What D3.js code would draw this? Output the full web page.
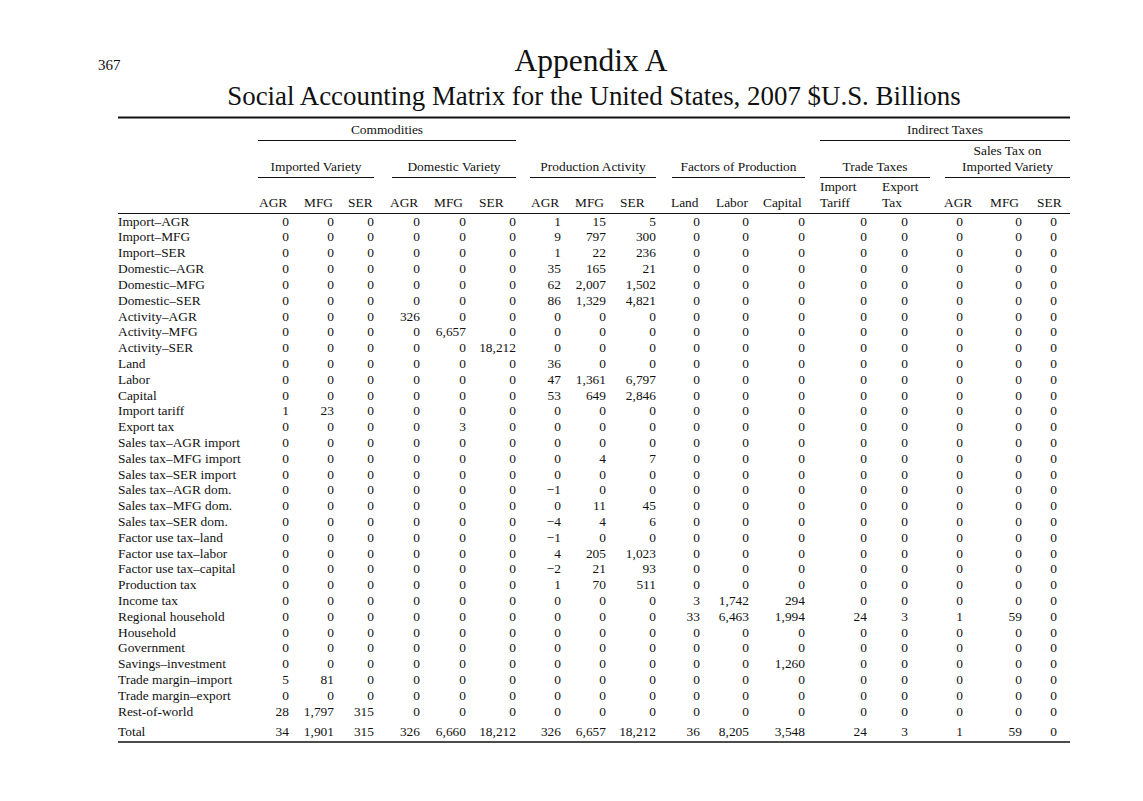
<!DOCTYPE html>
<html>
<head>
<meta charset="utf-8">
<script src="https://cdn.jsdelivr.net/npm/d3@7"></script>
<style>
  html, body { margin: 0; padding: 0; background: #fff; }
  svg { display: block; }
  text { font-family: "Liberation Serif", "Times New Roman", serif; fill: #111; }
</style>
</head>
<body>
<svg id="chart" width="1143" height="801"></svg>
<script>
// ---------------- DATA ----------------
const pageNumber = "367";
const title = "Appendix A";
const subtitle = "Social Accounting Matrix for the United States, 2007 $U.S. Billions";

const columnKeys = ["impAGR","impMFG","impSER","domAGR","domMFG","domSER",
  "actAGR","actMFG","actSER","land","labor","capital",
  "impTariff","expTax","stAGR","stMFG","stSER"];
const columnLabels = [["AGR"],["MFG"],["SER"],["AGR"],["MFG"],["SER"],
  ["AGR"],["MFG"],["SER"],["Land"],["Labor"],["Capital"],
  ["Import","Tariff"],["Export","Tax"],["AGR"],["MFG"],["SER"]];

const groupTop = [
  {label: ["Commodities"], from: "impAGR", to: "domSER"},
  {label: ["Indirect Taxes"], from: "impTariff", to: "stSER"}
];
const groupMid = [
  {label: ["Imported Variety"], from: "impAGR", to: "impSER"},
  {label: ["Domestic Variety"], from: "domAGR", to: "domSER"},
  {label: ["Production Activity"], from: "actAGR", to: "actSER"},
  {label: ["Factors of Production"], from: "land", to: "capital"},
  {label: ["Trade Taxes"], from: "impTariff", to: "expTax"},
  {label: ["Sales Tax on","Imported Variety"], from: "stAGR", to: "stSER"}
];

const rowLabels = ["Import–AGR","Import–MFG","Import–SER","Domestic–AGR","Domestic–MFG",
  "Domestic–SER","Activity–AGR","Activity–MFG","Activity–SER","Land","Labor","Capital",
  "Import tariff","Export tax","Sales tax–AGR import","Sales tax–MFG import",
  "Sales tax–SER import","Sales tax–AGR dom.","Sales tax–MFG dom.","Sales tax–SER dom.",
  "Factor use tax–land","Factor use tax–labor","Factor use tax–capital","Production tax",
  "Income tax","Regional household","Household","Government","Savings–investment",
  "Trade margin–import","Trade margin–export","Rest-of-world"];

const values = [
  [0,0,0,0,0,0,1,15,5,0,0,0,0,0,0,0,0],
  [0,0,0,0,0,0,9,797,300,0,0,0,0,0,0,0,0],
  [0,0,0,0,0,0,1,22,236,0,0,0,0,0,0,0,0],
  [0,0,0,0,0,0,35,165,21,0,0,0,0,0,0,0,0],
  [0,0,0,0,0,0,62,2007,1502,0,0,0,0,0,0,0,0],
  [0,0,0,0,0,0,86,1329,4821,0,0,0,0,0,0,0,0],
  [0,0,0,326,0,0,0,0,0,0,0,0,0,0,0,0,0],
  [0,0,0,0,6657,0,0,0,0,0,0,0,0,0,0,0,0],
  [0,0,0,0,0,18212,0,0,0,0,0,0,0,0,0,0,0],
  [0,0,0,0,0,0,36,0,0,0,0,0,0,0,0,0,0],
  [0,0,0,0,0,0,47,1361,6797,0,0,0,0,0,0,0,0],
  [0,0,0,0,0,0,53,649,2846,0,0,0,0,0,0,0,0],
  [1,23,0,0,0,0,0,0,0,0,0,0,0,0,0,0,0],
  [0,0,0,0,3,0,0,0,0,0,0,0,0,0,0,0,0],
  [0,0,0,0,0,0,0,0,0,0,0,0,0,0,0,0,0],
  [0,0,0,0,0,0,0,4,7,0,0,0,0,0,0,0,0],
  [0,0,0,0,0,0,0,0,0,0,0,0,0,0,0,0,0],
  [0,0,0,0,0,0,-1,0,0,0,0,0,0,0,0,0,0],
  [0,0,0,0,0,0,0,11,45,0,0,0,0,0,0,0,0],
  [0,0,0,0,0,0,-4,4,6,0,0,0,0,0,0,0,0],
  [0,0,0,0,0,0,-1,0,0,0,0,0,0,0,0,0,0],
  [0,0,0,0,0,0,4,205,1023,0,0,0,0,0,0,0,0],
  [0,0,0,0,0,0,-2,21,93,0,0,0,0,0,0,0,0],
  [0,0,0,0,0,0,1,70,511,0,0,0,0,0,0,0,0],
  [0,0,0,0,0,0,0,0,0,3,1742,294,0,0,0,0,0],
  [0,0,0,0,0,0,0,0,0,33,6463,1994,24,3,1,59,0],
  [0,0,0,0,0,0,0,0,0,0,0,0,0,0,0,0,0],
  [0,0,0,0,0,0,0,0,0,0,0,0,0,0,0,0,0],
  [0,0,0,0,0,0,0,0,0,0,0,1260,0,0,0,0,0],
  [5,81,0,0,0,0,0,0,0,0,0,0,0,0,0,0,0],
  [0,0,0,0,0,0,0,0,0,0,0,0,0,0,0,0,0],
  [28,1797,315,0,0,0,0,0,0,0,0,0,0,0,0,0,0]
];
const totalLabel = "Total";
const totals = [34,1901,315,326,6660,18212,326,6657,18212,36,8205,3548,24,3,1,59,0];

// ---------------- LAYOUT ----------------
const svg = d3.select("#chart");
svg.append("rect").attr("width",1143).attr("height",801).attr("fill","#fff");

const tableLeft = 118, tableRight = 1070;
const fs = 13.4;

// number column right edges
const xNum = d3.scaleOrdinal().domain(columnKeys)
  .range([289,334,374,420,466,516,561,606,656,700,749,805,867,908,963,1022,1057]);
// header text positions (left edge)
const xHead = d3.scaleOrdinal().domain(columnKeys)
  .range([259,304,348,390,434,479,531,575,620,671,716,763,820,882,944,990,1037]);
// span extents for group rules
const spanL = d3.scaleOrdinal().domain(columnKeys)
  .range([258,303,347,392,433,478,530,574,619,672,715,762,820,881,945,990,1036]);
const spanR = d3.scaleOrdinal().domain(columnKeys)
  .range([289,334,374,420,466,516,561,606,656,700,749,805,867,930,975,1023,1070]);

const y = d3.scalePoint().domain(rowLabels).range([221, 711]);
const yTotal = 731;

const fmt = d3.format(",");

// Titles
svg.append("text").attr("x",98).attr("y",70).attr("font-size",15).text(pageNumber);
svg.append("text").attr("x",591).attr("y",71).attr("text-anchor","middle")
  .attr("font-size",31.5).text(title);
svg.append("text").attr("x",594).attr("y",105).attr("text-anchor","middle")
  .attr("font-size",26.9).text(subtitle);

// Rules
function hline(x1,x2,yy,w){ svg.append("line").attr("x1",x1).attr("x2",x2)
  .attr("y1",yy).attr("y2",yy).attr("stroke","#111").attr("stroke-width",w); }
hline(tableLeft, tableRight, 117.5, 2);
hline(tableLeft, tableRight, 213.5, 1.2);
hline(tableLeft, tableRight, 742, 1.5);

// Group headers (top)
groupTop.forEach(g => {
  const x1 = spanL(g.from), x2 = spanR(g.to);
  svg.append("text").attr("x",(x1+x2)/2).attr("y",134).attr("text-anchor","middle")
    .attr("font-size",fs).text(g.label[0]);
  hline(x1, x2, 140.5, 1);
});
// Group headers (middle)
groupMid.forEach(g => {
  const x1 = spanL(g.from), x2 = spanR(g.to);
  g.label.forEach((l,i) => {
    svg.append("text").attr("x",(x1+x2)/2).attr("y",171 - (g.label.length-1-i)*16)
      .attr("text-anchor","middle").attr("font-size",fs).text(l);
  });
  hline(x1, x2, 177.5, 1);
});
// Column headers
columnKeys.forEach((k,i) => {
  const lab = columnLabels[i];
  lab.forEach((l,j) => {
    svg.append("text").attr("x",xHead(k)).attr("y",207 - (lab.length-1-j)*16)
      .attr("font-size",fs).text(l);
  });
});

// Body
const body = svg.append("g");
const rows = body.selectAll("g.row").data(rowLabels.map((r,i)=>({label:r, vals:values[i]})))
  .join("g").attr("class","row");
rows.append("text").attr("x",tableLeft).attr("y",d=>y(d.label)).attr("dy","0.35em")
  .attr("font-size",fs).text(d=>d.label);
rows.selectAll("text.v").data(d=>d.vals.map((v,i)=>({v, k:columnKeys[i], r:d.label})))
  .join("text").attr("class","v").attr("x",d=>xNum(d.k)).attr("y",d=>y(d.r))
  .attr("dy","0.35em").attr("text-anchor","end").attr("font-size",fs)
  .text(d=>fmt(d.v));

// Total
body.append("text").attr("x",tableLeft).attr("y",yTotal).attr("dy","0.35em")
  .attr("font-size",fs).text(totalLabel);
body.selectAll("text.t").data(totals.map((v,i)=>({v,k:columnKeys[i]})))
  .join("text").attr("class","t").attr("x",d=>xNum(d.k)).attr("y",yTotal)
  .attr("dy","0.35em").attr("text-anchor","end").attr("font-size",fs)
  .text(d=>fmt(d.v));
</script>
</body>
</html>
